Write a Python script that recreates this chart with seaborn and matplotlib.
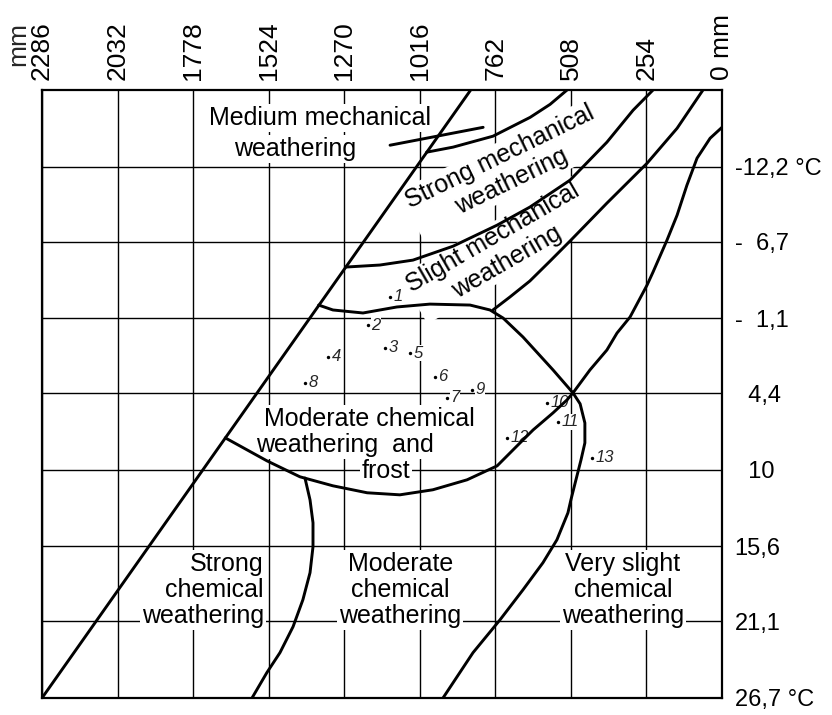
import matplotlib
matplotlib.use("Agg")
import matplotlib.pyplot as plt
import seaborn as sns

# ---- axes: annual rainfall (mm, decreasing to the right) and mean temperature (deg C, colder upward)
RAIN_TICKS = [2286, 2032, 1778, 1524, 1270, 1016, 762, 508, 254, 0]
RAIN_LABELS = ["2286", "2032", "1778", "1524", "1270", "1016", "762", "508", "254", "0 mm"]
TEMP_TICKS = [-12.2, -6.7, -1.1, 4.4, 10, 15.6, 21.1, 26.7]
TEMP_LABELS = ["-12,2 °C", "-  6,7", "-  1,1", "  4,4", "  10", "15,6", "21,1", "26,7 °C"]

# ---- region boundaries (rainfall mm, temperature deg C)
EDGE_MM = [2286, 845]
EDGE_T = [26.7, -17.8]

STRONG_MECH_TOP_MM = [993, 904, 770, 645, 578, 521]
STRONG_MECH_TOP_T = [-13.25, -13.62, -14.42, -15.8, -16.75, -17.8]

MEDIUM_MECH_MARK_MM = [1116, 803]
MEDIUM_MECH_MARK_T = [-13.76, -15.07]

SLIGHT_MECH_TOP_MM = [1266, 1150, 1039, 904, 756, 646, 511, 387, 299, 232]
SLIGHT_MECH_TOP_T = [-4.84, -4.99, -5.35, -6.37, -7.91, -9.23, -11.20, -13.98, -16.32, -17.8]

SLIGHT_MECH_BASE_MM = [770, 713, 646, 578, 508, 387, 252, 151, 64]
SLIGHT_MECH_BASE_T = [-1.70, -2.65, -3.82, -5.28, -6.81, -9.52, -12.44, -15.00, -17.8]

DRY_LIMIT_MM = [0, 40, 84, 118, 151, 185, 232, 252, 309, 353, 387, 444, 501]
DRY_LIMIT_T = [-15.07, -14.27, -12.81, -10.83, -8.64, -6.81, -4.47, -3.52, -1.19, -0.01, 1.23, 2.69, 4.37]

FROST_BASE_MM = [501, 521, 568, 635, 679, 756, 857, 972, 1083, 1193, 1308, 1419, 1530, 1670]
FROST_BASE_T = [4.37, 4.88, 5.83, 7.08, 8.03, 9.71, 10.73, 11.46, 11.83, 11.68, 11.17, 10.51, 9.34, 7.66]

FROST_TOP_MM = [1356, 1308, 1207, 1093, 982, 847, 780, 736, 669, 568, 501, 477, 461, 461,
                474, 491, 508, 518, 555, 602, 669, 746, 837, 938]
FROST_TOP_T = [-2.06, -1.70, -1.48, -1.92, -2.13, -2.06, -1.70, -1.11, 0.28, 2.69, 4.37, 5.17,
               6.57, 8.03, 9.27, 10.73, 12.20, 13.15, 15.12, 16.80, 18.78, 20.97, 23.38, 26.7]

CHEM_SPLIT_MM = [1402, 1385, 1375, 1375, 1385, 1409, 1442, 1486, 1530, 1580]
CHEM_SPLIT_T = [10.6, 12.20, 13.88, 15.63, 17.53, 19.51, 21.48, 23.38, 24.84, 26.7]

# ---- sampling stations
STATION_ID = [1, 2, 3, 4, 5, 6, 7, 8, 9, 10, 11, 12, 13]
STATION_MM = [1116, 1190, 1133, 1324, 1049, 965, 924, 1402, 840, 588, 551, 723, 437]
STATION_T = [-2.65, -0.60, 1.08, 1.74, 1.45, 3.20, 4.74, 3.64, 4.15, 5.10, 6.49, 7.66, 9.12]

sns.set_theme(style="white")
plt.rcParams["font.family"] = ["Liberation Sans", "DejaVu Sans"]

fig = plt.figure(figsize=(8.32, 7.15), dpi=100)
ax = fig.add_axes([0.0505, 0.0238, 0.8173, 0.8503])

curves = [
    (EDGE_MM, EDGE_T),
    (STRONG_MECH_TOP_MM, STRONG_MECH_TOP_T),
    (MEDIUM_MECH_MARK_MM, MEDIUM_MECH_MARK_T),
    (SLIGHT_MECH_TOP_MM, SLIGHT_MECH_TOP_T),
    (SLIGHT_MECH_BASE_MM, SLIGHT_MECH_BASE_T),
    (DRY_LIMIT_MM, DRY_LIMIT_T),
    (FROST_BASE_MM, FROST_BASE_T),
    (FROST_TOP_MM, FROST_TOP_T),
    (CHEM_SPLIT_MM, CHEM_SPLIT_T),
]
for xs, ys in curves:
    sns.lineplot(x=xs, y=ys, sort=False, estimator=None, color="black",
                 linewidth=2.1, ax=ax, zorder=2)

sns.scatterplot(x=STATION_MM, y=STATION_T, color="black", s=6, linewidth=0,
                ax=ax, zorder=3)
for sid, xm, yt in zip(STATION_ID, STATION_MM, STATION_T):
    ax.annotate(str(sid), xy=(xm, yt), xytext=(2.5, 0), textcoords="offset points",
                ha="left", va="center", fontsize=12, style="italic", zorder=1.6,
                bbox=dict(facecolor="white", edgecolor="none", pad=0.3))

ax.set_xlim(2286, 0)
ax.set_ylim(26.7, -17.8)

ax.set_xticks(RAIN_TICKS)
ax.set_xticklabels(RAIN_LABELS)
ax.set_yticks(TEMP_TICKS)
ax.set_yticklabels(TEMP_LABELS)
ax.xaxis.set_ticks_position("top")
ax.yaxis.set_ticks_position("right")
ax.tick_params(axis="x", length=0, pad=7, labelsize=19, labelrotation=90, colors="black")
ax.tick_params(axis="y", length=0, pad=9, labelsize=17, colors="black")
for lab in ax.get_yticklabels():
    lab.set_horizontalalignment("left")
ax.set_xlabel("")
ax.set_ylabel("")

ax.grid(True, color="black", linewidth=1.0)
ax.set_axisbelow(True)
for sp in ax.spines.values():
    sp.set_color("black")
    sp.set_linewidth(1.6)
    sp.set_visible(True)

ax.annotate("mm", xy=(2286, 1), xycoords=ax.get_xaxis_transform(), xytext=(-17, 17),
            textcoords="offset points", rotation=90, ha="center", va="bottom", fontsize=19)

txt = dict(fontsize=18, color="black", zorder=1.5,
           bbox=dict(facecolor="white", edgecolor="none", pad=1.5))

ax.text(1351, -15.73, "Medium mechanical", ha="center", va="center", **txt)
ax.text(1435, -13.45, "weathering", ha="center", va="center", **txt)
ax.text(726, -12.0, "Strong mechanical\nweathering", ha="center", va="center",
        rotation=26, multialignment="center", linespacing=1.2, **txt)
ax.text(746, -6.1, "Slight mechanical\nweathering", ha="center", va="center",
        rotation=30, multialignment="center", linespacing=1.2, **txt)
ax.text(1187, 6.3, "Moderate chemical", ha="center", va="center", **txt)
ax.text(1267, 8.2, "weathering  and", ha="center", va="center", **txt)
ax.text(1130, 10.05, "frost", ha="center", va="center", **txt)
ax.text(1540, 18.77, "Strong\nchemical\nweathering", ha="right", va="center",
        multialignment="right", linespacing=1.1, **txt)
ax.text(1082, 18.77, "Moderate\nchemical\nweathering", ha="center", va="center",
        multialignment="center", linespacing=1.1, **txt)
ax.text(333, 18.77, "Very slight\nchemical\nweathering", ha="center", va="center",
        multialignment="center", linespacing=1.1, **txt)

fig.savefig("out.png", dpi=100)
